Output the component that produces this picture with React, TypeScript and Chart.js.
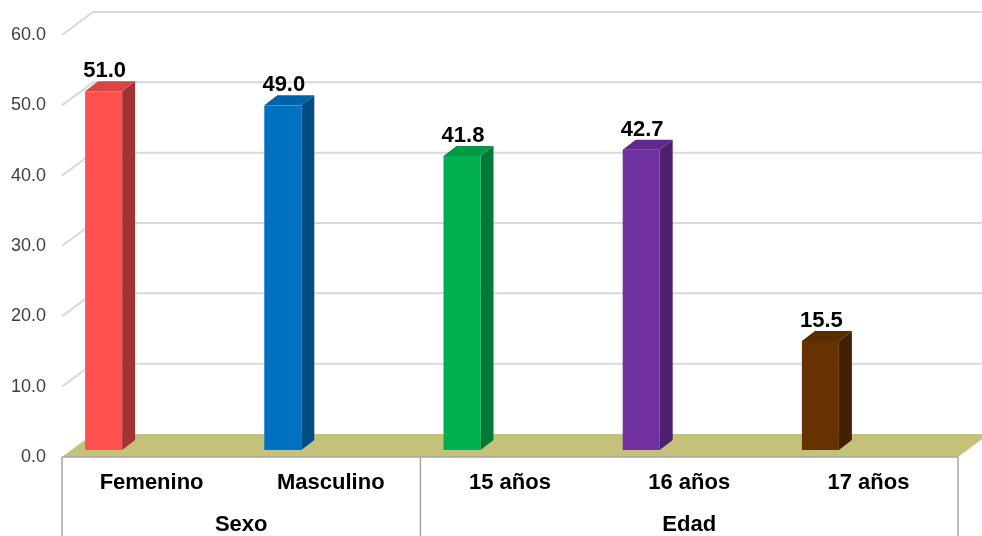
import React, { useEffect, useRef } from "react";
import { Chart, registerables } from "chart.js";

Chart.register(...registerables);

// ---- data ----
const categories = ["Femenino", "Masculino", "15 años", "16 años", "17 años"];
const groupLabels = ["Sexo", "Edad"];
const groupSizes = [2, 3];
const values = [51.0, 49.0, 41.8, 42.7, 15.5];
const yTickValues = [0, 10, 20, 30, 40, 50, 60];

// ---- styles ----
const frontColors = ["#FF5050", "#0070C0", "#00B050", "#7030A0", "#663300"];
const topColors = ["#D94444", "#0062A8", "#009A46", "#62298C", "#5A2D00"];
const sideColors = ["#A33333", "#004C85", "#007A37", "#4E2170", "#432100"];

const FONT = '"Liberation Sans", Arial, Helvetica, sans-serif';
const WALL_DX = 31;
const WALL_DY = -23;
const BAR_SHIFT_X = -48;
const BAR_SHIFT_Y = -7;
const BAR_W = 37;
const BAR_DX = 13;
const BAR_DY = -10;

const threeDPlugin = {
  id: "threeD",
  beforeDatasetsDraw(chart: any) {
    const { ctx, chartArea: a, scales } = chart;
    const x = scales.x;
    const y = scales.y;
    const y0 = y.getPixelForValue(0);
    ctx.save();
    // back wall + side wall grid lines
    ctx.strokeStyle = "#D9D9D9";
    ctx.lineWidth = 2;
    yTickValues.forEach((t) => {
      if (t === 0) return;
      const fy = y.getPixelForValue(t);
      ctx.beginPath();
      ctx.moveTo(a.left, fy);
      ctx.lineTo(a.left + WALL_DX, fy + WALL_DY);
      ctx.lineTo(chart.width, fy + WALL_DY);
      ctx.stroke();
    });
    // floor
    ctx.fillStyle = "#C4C27A";
    ctx.beginPath();
    ctx.moveTo(a.left, y0);
    ctx.lineTo(a.right, y0);
    ctx.lineTo(a.right + WALL_DX, y0 + WALL_DY);
    ctx.lineTo(a.left + WALL_DX, y0 + WALL_DY);
    ctx.closePath();
    ctx.fill();
    // category box lines
    ctx.strokeStyle = "#A6A6A6";
    ctx.lineWidth = 1.5;
    ctx.beginPath();
    ctx.moveTo(a.left, y0);
    ctx.lineTo(a.right, y0);
    let idx = 0;
    const bounds = [a.left];
    groupSizes.forEach((n) => {
      idx += n;
      bounds.push(x.getPixelForValue(idx - 0.5));
    });
    bounds.forEach((bx) => {
      ctx.moveTo(bx, y0);
      ctx.lineTo(bx, chart.height);
    });
    ctx.stroke();
    // group labels
    ctx.fillStyle = "#000000";
    ctx.font = `bold 22px ${FONT}`;
    ctx.textAlign = "center";
    ctx.textBaseline = "middle";
    groupLabels.forEach((g, i) => {
      const cx = (bounds[i] + bounds[i + 1]) / 2;
      ctx.fillText(g, cx, 525);
    });
    ctx.restore();
  },
  afterDatasetsDraw(chart: any) {
    const { ctx, scales } = chart;
    const x = scales.x;
    const y = scales.y;
    ctx.save();
    values.forEach((v, i) => {
      const cx = x.getPixelForValue(i) + BAR_SHIFT_X;
      const left = cx - BAR_W / 2;
      const right = cx + BAR_W / 2;
      const base = y.getPixelForValue(0) + BAR_SHIFT_Y;
      const top = y.getPixelForValue(v) + BAR_SHIFT_Y;
      // side
      ctx.fillStyle = sideColors[i];
      ctx.beginPath();
      ctx.moveTo(right, base);
      ctx.lineTo(right, top);
      ctx.lineTo(right + BAR_DX, top + BAR_DY);
      ctx.lineTo(right + BAR_DX, base + BAR_DY);
      ctx.closePath();
      ctx.fill();
      // top
      ctx.fillStyle = topColors[i];
      ctx.beginPath();
      ctx.moveTo(left, top);
      ctx.lineTo(right, top);
      ctx.lineTo(right + BAR_DX, top + BAR_DY);
      ctx.lineTo(left + BAR_DX, top + BAR_DY);
      ctx.closePath();
      ctx.fill();
      // front
      ctx.fillStyle = frontColors[i];
      ctx.fillRect(left, top, BAR_W, base - top);
      // value label
      ctx.fillStyle = "#000000";
      ctx.font = `bold 22px ${FONT}`;
      ctx.textAlign = "center";
      ctx.textBaseline = "alphabetic";
      ctx.fillText(v.toFixed(1), cx + 1, top + BAR_DY - 4);
    });
    ctx.restore();
  },
};

export default function App() {
  const canvasRef = useRef<HTMLCanvasElement | null>(null);

  useEffect(() => {
    const canvas = canvasRef.current;
    if (!canvas) return;
    const chart = new Chart(canvas, {
      type: "bar",
      data: {
        labels: categories,
        datasets: [
          {
            data: values,
            backgroundColor: "rgba(0,0,0,0)",
            borderWidth: 0,
            barPercentage: 0.2,
            categoryPercentage: 1,
          },
        ],
      },
      options: {
        animation: false,
        responsive: false,
        devicePixelRatio: 1,
        layout: { padding: { top: 35, right: 24, left: 0, bottom: 0 } },
        plugins: {
          legend: { display: false },
          tooltip: { enabled: false },
          title: { display: false },
        },
        scales: {
          x: {
            type: "category",
            grid: { display: false, drawTicks: false },
            border: { display: false },
            ticks: {
              padding: 13,
              color: "#000000",
              font: { family: FONT, size: 22, weight: "bold" },
              maxRotation: 0,
              autoSkip: false,
            },
            afterFit: (scale: any) => {
              scale.height = 79;
            },
          },
          y: {
            type: "linear",
            min: 0,
            max: 60,
            grid: { display: false, drawTicks: false },
            border: { display: false },
            ticks: {
              stepSize: 10,
              padding: 16,
              color: "#404040",
              font: { family: FONT, size: 18 },
              callback: (v: any) => Number(v).toFixed(1),
            },
            afterFit: (scale: any) => {
              scale.width = 62;
            },
          },
        },
      },
      plugins: [threeDPlugin],
    });
    return () => chart.destroy();
  }, []);

  return (
    <div style={{ position: "absolute", left: 0, top: 0, width: 982, height: 536, background: "#ffffff" }}>
      <canvas ref={canvasRef} width={982} height={536} />
    </div>
  );
}
